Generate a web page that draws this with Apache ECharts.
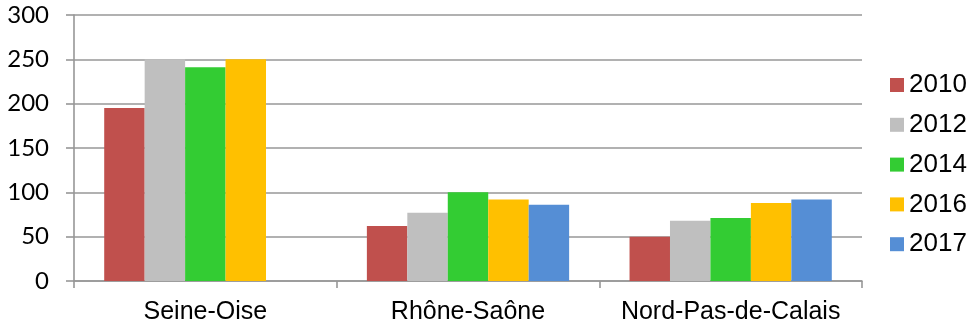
<!DOCTYPE html>
<html>
<head>
<meta charset="utf-8">
<script src="https://cdn.jsdelivr.net/npm/echarts@6/dist/echarts.min.js"></script>
<style>
  html, body { margin: 0; padding: 0; background: #fff; }
  #chart { width: 971px; height: 329px; }
</style>
</head>
<body>
<div id="chart"></div>
<script>
// Regions shown on the category axis
const regions = ['Seine-Oise', 'Rhône-Saône', 'Nord-Pas-de-Calais'];

// Values per year, one entry per region (null = no value)
const values2010 = [195, 62, 50];
const values2012 = [250, 77, 68];
const values2014 = [241, 100, 71];
const values2016 = [250, 92, 88];
const values2017 = [null, 86, 92];

// Value axis ticks
const yMin = 0;
const yMax = 300;
const yStep = 50;

const years = ['2010', '2012', '2014', '2016', '2017'];
const seriesValues = [values2010, values2012, values2014, values2016, values2017];
const colors = ['#C0504D', '#BFBFBF', '#33CC33', '#FFC000', '#558ED5'];

const chart = echarts.init(document.getElementById('chart'), null, { renderer: 'canvas' });

const gridColor = '#979797';
const lineW = 1.6;

chart.setOption({
  animation: false,
  color: colors,
  textStyle: { fontFamily: 'Liberation Sans, Arial, sans-serif' },
  grid: { left: 74, right: 109, top: 15, bottom: 48, containLabel: false },
  legend: {
    orient: 'vertical',
    left: 890,
    top: 72,
    padding: 0,
    itemWidth: 14,
    itemHeight: 14,
    itemGap: 13.8,
    icon: 'rect',
    textStyle: { fontSize: 26, color: '#000', lineHeight: 26 },
    data: years
  },
  xAxis: {
    type: 'category',
    data: regions,
    axisLine: { show: true, lineStyle: { color: gridColor, width: lineW } },
    axisTick: { show: true, alignWithLabel: false, length: 7, lineStyle: { color: gridColor, width: lineW } },
    axisLabel: { color: '#000', fontSize: 25, margin: 19, interval: 0 }
  },
  yAxis: {
    type: 'value',
    min: yMin,
    max: yMax,
    interval: yStep,
    axisLine: { show: true, lineStyle: { color: gridColor, width: lineW } },
    axisTick: { show: true, length: 8, lineStyle: { color: gridColor, width: lineW } },
    axisLabel: { color: '#000', fontSize: 24, margin: 25, fontFamily: 'Lato, sans-serif' },
    splitLine: { show: true, lineStyle: { color: gridColor, width: lineW } }
  },
  series: years.map((y, i) => ({
    name: y,
    type: 'bar',
    data: seriesValues[i],
    barGap: '0%',
    barCategoryGap: '23%',
    itemStyle: { color: colors[i] }
  }))
});
</script>
</body>
</html>
